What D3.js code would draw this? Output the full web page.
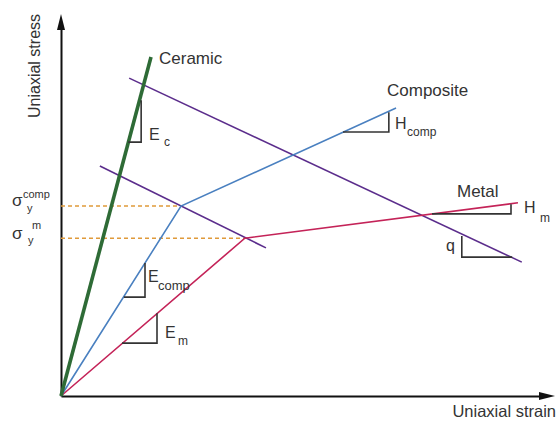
<!DOCTYPE html>
<html>
<head>
<meta charset="utf-8">
<script src="https://cdn.jsdelivr.net/npm/d3@7"></script>
<style>
  body { margin: 0; background: #fff; }
  text { font-family: "Liberation Sans", Arial, sans-serif; fill: #333; }
</style>
</head>
<body>
<script>
let width = 559, height = 424;

// curvas tension-deformacion (deformacion, tension) en unidades arbitrarias
let ceramic   = [[0, 0], [1.875, 7.37]];
let composite = [[0, 0], [2.5, 4.13], [6.98, 6.26]];
let metal     = [[0, 0], [3.83, 3.43], [9.52, 4.20]];
// rectas de carga (moradas)
let loadUpper = [[1.42, 6.91], [9.60, 2.91]];
let loadLower = [[0.81, 5.00], [4.27, 3.22]];
// limites elasticos
let yieldComp = 4.13, yieldMetal = 3.43;
let yieldCompStrain = 2.5, yieldMetalStrain = 3.83;

// triangulos de pendiente: [u0, u1, vBottom, vTop, tipo]
let slopes = [
  [1.40, 1.67, 5.52, 6.43, "pos"],   // Ec
  [1.31, 1.75, 2.15, 2.89, "pos"],   // Ecomp
  [1.27, 2.00, 1.15, 1.80, "pos"],   // Em
  [5.875, 6.83, 5.74, 6.17, "pos"],  // Hcomp
  [7.73, 9.375, 3.96, 4.17, "pos"],  // Hm
  [8.35, 9.40, 3.02, 3.48, "neg"]    // q
];

let x = d3.scaleLinear().domain([0, 10]).range([61, 541]);
let y = d3.scaleLinear().domain([0, 8]).range([396, 28]);

let svg = d3.select("body").append("svg")
  .attr("width", width)
  .attr("height", height);

//Ejes sin marcas, con flecha al final
let xAxis = svg.append("g")
  .attr("transform", "translate(0," + y(0) + ")")
  .call(d3.axisBottom(x).tickValues([]).tickSizeOuter(0));
let yAxis = svg.append("g")
  .attr("transform", "translate(" + x(0) + ",0)")
  .call(d3.axisLeft(y).tickValues([]).tickSizeOuter(0));
svg.selectAll(".domain").attr("stroke", "#111").attr("stroke-width", 2);

svg.append("path")
  .attr("d", "M" + (x(10) - 2) + "," + (y(0) - 4) + "L" + (x(10) + 14) + "," + y(0) + "L" + (x(10) - 2) + "," + (y(0) + 4) + "Z")
  .attr("fill", "#111");
svg.append("path")
  .attr("d", "M" + (x(0) - 4) + "," + (y(8) + 2) + "L" + x(0) + "," + (y(8) - 14) + "L" + (x(0) + 4) + "," + (y(8) + 2) + "Z")
  .attr("fill", "#111");

let line = d3.line().x(d => x(d[0])).y(d => y(d[1]));

//lineas discontinuas del limite elastico
[[yieldComp, yieldCompStrain], [yieldMetal, yieldMetalStrain]].forEach(function(d) {
  svg.append("path")
    .attr("d", line([[0, d[0]], [d[1], d[0]]]))
    .attr("fill", "none")
    .attr("stroke", "#e09a3a")
    .attr("stroke-width", 1.5)
    .attr("stroke-dasharray", "4,3");
});

svg.append("path").attr("d", line(loadUpper)).attr("fill", "none")
  .attr("stroke", "#5b2d8c").attr("stroke-width", 1.6);
svg.append("path").attr("d", line(loadLower)).attr("fill", "none")
  .attr("stroke", "#5b2d8c").attr("stroke-width", 1.6);
svg.append("path").attr("d", line(metal)).attr("fill", "none")
  .attr("stroke", "#c42358").attr("stroke-width", 1.6);
svg.append("path").attr("d", line(composite)).attr("fill", "none")
  .attr("stroke", "#4a80c0").attr("stroke-width", 1.6);
svg.append("path").attr("d", line(ceramic)).attr("fill", "none")
  .attr("stroke", "#2e6b36").attr("stroke-width", 3.6);

svg.selectAll(".slope")
  .data(slopes)
  .enter()
  .append("path")
  .attr("class", "slope")
  .attr("d", function(d) {
    if (d[4] == "pos") return line([[d[0], d[2]], [d[1], d[2]], [d[1], d[3]]]);
    return line([[d[0], d[3]], [d[0], d[2]], [d[1], d[2]]]);
  })
  .attr("fill", "none")
  .attr("stroke", "#333")
  .attr("stroke-width", 1.6);

//etiquetas
function label(px, py, txt, size) {
  return svg.append("text").attr("x", px).attr("y", py)
    .style("font-size", size + "px").text(txt);
}
label(159, 64, "Ceramic", 17);
label(387, 96, "Composite", 17);
label(457, 197, "Metal", 17);

label(149, 140, "E", 16); label(164, 146, "c", 12);
label(148, 282, "E", 16); label(158, 290, "comp", 13);
label(165, 338, "E", 16); label(178, 345, "m", 12);
label(395, 129, "H", 16); label(407, 136, "comp", 12);
label(524, 213, "H", 16); label(540, 222, "m", 12);
label(446, 251, "q", 16);

label(12, 206, "σ", 17); label(23, 198, "comp", 11); label(27, 212, "y", 11);
label(12, 239, "σ", 17); label(32, 229, "m", 11); label(28, 244, "y", 11);

svg.append("text")
  .attr("transform", "translate(40,118) rotate(-90)")
  .style("font-size", "16px")
  .text("Uniaxial stress");
svg.append("text")
  .attr("x", 556).attr("y", 417)
  .attr("text-anchor", "end")
  .style("font-size", "16.5px")
  .text("Uniaxial strain");
</script>
</body>
</html>
